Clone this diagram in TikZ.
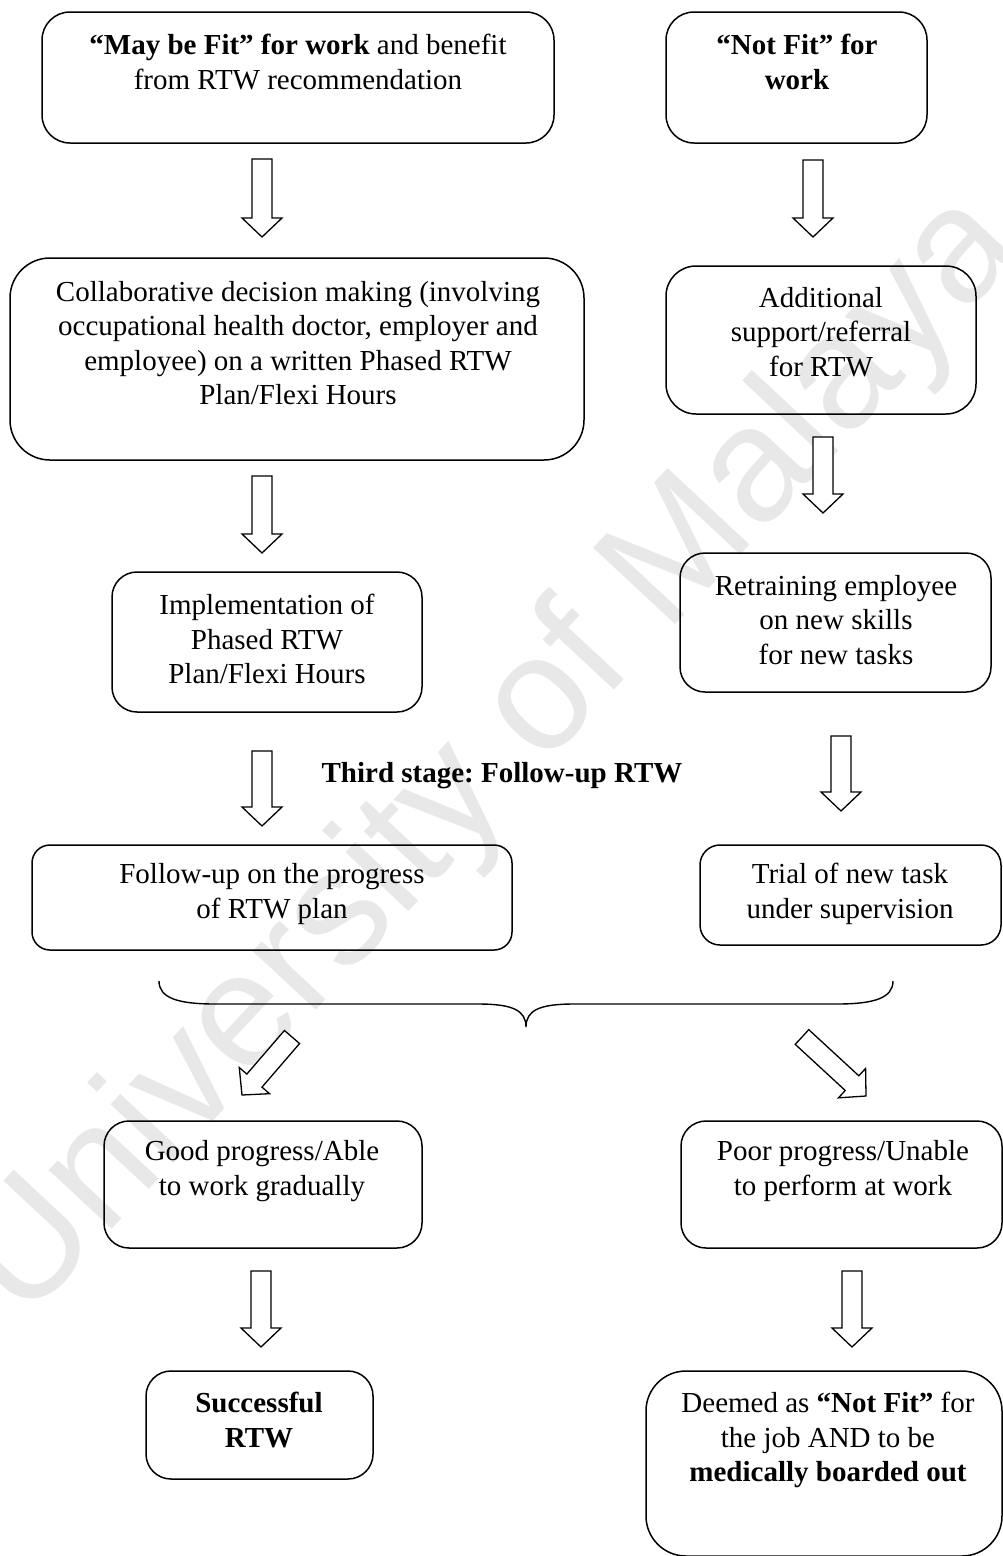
\documentclass[tikz,border=0pt]{standalone}
\usepackage{fontspec}
\setmainfont{Liberation Serif}
\newfontfamily\wmfont{Liberation Sans}
\usetikzlibrary{calc}
\frenchspacing
\tikzset{
  box/.style={draw, line width=1.5pt, inner sep=0pt, outer sep=0pt},
  txt/.style={align=center, inner sep=0pt, font=\fontsize{29pt}{34.5pt}\selectfont},
  btxt/.style={align=center, inner sep=0pt, font=\fontsize{29pt}{34.5pt}\selectfont\bfseries},
  arr/.style={draw, line width=1.3pt, fill=white, line join=miter},
  brace/.style={draw, line width=1.4pt},
  wm/.style={text=black!9, inner sep=0pt, font=\wmfont\fontsize{163pt}{163pt}\selectfont}
}
% name, x1, y1, x2, y2, radius
\newcommand\rbox[6]{%
  \pgfmathsetmacro\bcx{(#2+#4)/2}%
  \pgfmathsetmacro\bcy{(#3+#5)/2}%
  \pgfmathsetmacro\bw{#4-#2}%
  \pgfmathsetmacro\bh{#5-#3}%
  \node[box, rounded corners=#6pt, minimum width=\bw pt, minimum height=\bh pt] (#1) at (\bcx,\bcy) {};%
}
% block arrow from tail coordinate to tip coordinate
\newcommand\barrow[2]{%
  \coordinate (hx) at ($(#2)!19pt!(#1)$);%
  \draw[arr] ($(#1)!10pt!90:(#2)$) -- ($(hx)!10pt!90:(#2)$) -- ($(hx)!20pt!90:(#2)$)
    -- (#2) -- ($(hx)!20pt!-90:(#2)$) -- ($(hx)!10pt!-90:(#2)$) -- ($(#1)!10pt!-90:(#2)$) -- cycle;%
}
\begin{document}
\begin{tikzpicture}[x=1pt, y=-1pt]
\useasboundingbox (0,0) rectangle (1003,1556);
\clip (0,0) rectangle (1003,1556);
\fill[white] (0,0) rectangle (1003,1556);

% watermark
\node[wm, rotate=47] (wmark) at (494,758) {University of Malaya};

% boxes
\rbox{A}{42}{12}{554}{143}{28}
\rbox{B}{666}{12}{927}{143}{28}
\rbox{C}{10}{258}{584}{460}{40}
\rbox{D}{666}{266}{976}{414}{30}
\rbox{E}{680}{553}{991}{692}{25}
\rbox{G}{112}{572}{422}{712}{25}
\rbox{H}{32}{845}{512}{950}{18}
\rbox{F}{700}{845}{1001}{945}{20}
\rbox{I}{104}{1121}{422}{1248}{25}
\rbox{K}{681}{1121}{1002}{1248}{25}
\rbox{J}{146}{1371}{373}{1479}{25}
\rbox{L}{646}{1371}{1002}{1556}{40}

% texts
\node[txt] (tA) at (298,62) {\textbf{“May be Fit” for work} and benefit\\from RTW recommendation};
\node[btxt] (tB) at (797,62) {“Not Fit” for\\work};
\node[txt] (tC) at (298,343) {Collaborative decision making (involving\\occupational health doctor, employer and\\employee) on a written Phased RTW\\Plan/Flexi Hours};
\node[txt] (tD) at (821,332) {Additional\\support/referral\\for RTW};
\node[txt] (tE) at (836,620) {Retraining employee\\on new skills\\for new tasks};
\node[txt] (tG) at (267,639) {Implementation of\\Phased RTW\\Plan/Flexi Hours};
\node[btxt] (tS) at (502,776) {Third stage: Follow-up RTW};
\node[txt] (tH) at (272,894) {Follow-up on the progress\\of RTW plan};
\node[txt] (tF) at (850,894) {Trial of new task\\under supervision};
\node[txt] (tI) at (262,1171) {Good progress/Able\\to work gradually};
\node[txt] (tK) at (843,1171) {Poor progress/Unable\\to perform at work};
\node[btxt] (tJ) at (259,1420) {Successful\\RTW};
\node[txt] (tL) at (828,1440) {Deemed as \textbf{“Not Fit”} for\\the job AND to be\\\textbf{medically boarded out}};

% arrow end coordinates
\coordinate (a1s) at (262,159);  \coordinate (a1e) at (262,237);
\coordinate (b1s) at (813,160);  \coordinate (b1e) at (813,237);
\coordinate (a2s) at (262,476);  \coordinate (a2e) at (262,553);
\coordinate (b2s) at (823,437);  \coordinate (b2e) at (823,513);
\coordinate (a3s) at (262,751);  \coordinate (a3e) at (262,826);
\coordinate (b3s) at (841,736);  \coordinate (b3e) at (841,811);
\coordinate (lds) at (292,1037); \coordinate (lde) at (242,1095);
\coordinate (rds) at (802,1037); \coordinate (rde) at (866,1096);
\coordinate (a5s) at (261,1271); \coordinate (a5e) at (261,1347);
\coordinate (b6s) at (852,1271); \coordinate (b6e) at (852,1347);

\barrow{a1s}{a1e}
\barrow{b1s}{b1e}
\barrow{a2s}{a2e}
\barrow{b2s}{b2e}
\barrow{a3s}{a3e}
\barrow{b3s}{b3e}
\barrow{lds}{lde}
\barrow{rds}{rde}
\barrow{a5s}{a5e}
\barrow{b6s}{b6e}

% brace
\draw[brace] (159,981) .. controls (159,998) and (178,1004) .. (215,1004)
  -- (478,1004) .. controls (512,1004) and (526,1010) .. (526,1027)
  .. controls (526,1010) and (540,1004) .. (574,1004)
  -- (837,1004) .. controls (874,1004) and (893,998) .. (893,981);
\end{tikzpicture}
\end{document}
